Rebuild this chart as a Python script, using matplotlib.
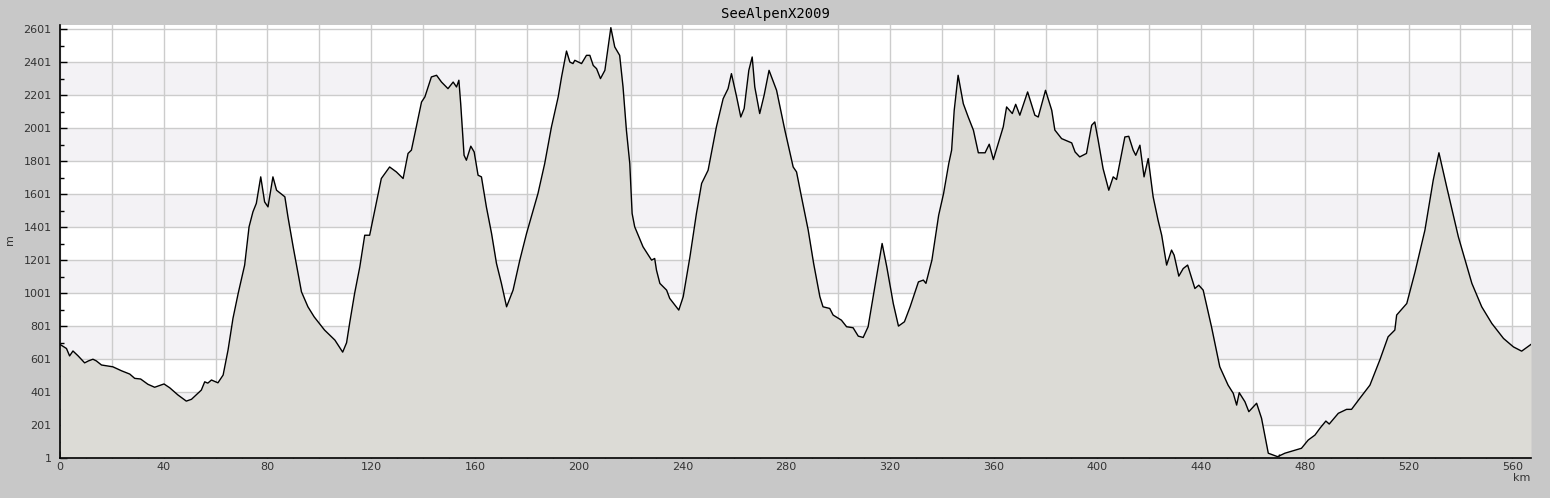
import matplotlib
matplotlib.use("Agg")
import matplotlib.pyplot as plt
from matplotlib.ticker import MultipleLocator, FixedLocator, FuncFormatter

title = "SeeAlpenX2009"
x_label = "km"
y_label = "m"

km = [0, 1, 2.5, 3.7, 5, 7, 9.5, 11, 12.7, 14, 16, 20.4, 23.7, 26.9, 28.8, 31.1, 33.9, 36.5,
      40.1, 42.3, 45.5, 48.7, 50.7, 54.5, 55.8, 57, 58.4, 60.9, 62.9, 64.8, 66.7, 68.7, 71.2,
      72.9, 74.4, 75.7, 77.4, 78.9, 80.2, 82.1, 83.5, 86.7, 87.9, 89.9, 93.1, 95.6, 98, 102,
      106, 109, 110.5, 111.7, 113.6, 115.6, 117.5, 119.4, 121.4, 123.9, 127.1, 129.7, 132.3,
      134.2, 135.5, 139.4, 140.7, 143.2, 145.2, 147.1, 149.6, 151.6, 152.9, 153.8, 154.5,
      155.8, 156.7, 158.4, 159.7, 161.2, 162.5, 164.4, 166.4, 168.3, 170.2, 172.2, 174.7,
      177.3, 179.9, 184.3, 186.9, 189.5, 192.1, 193.4, 195.3, 196.6, 197.8, 198.5, 201.1,
      203, 204.3, 205.6, 206.9, 208.4, 210.1, 212.4, 213.9, 215.8, 217.1, 218.4, 219.7,
      220.6, 221.6, 224.8, 228.1, 229.3, 230, 231.3, 233.9, 235.1, 238.6, 240.3, 242.9,
      245.4, 247.4, 249.9, 253.1, 255.7, 257.6, 258.9, 260.9, 262.5, 263.8, 265.6, 266.9,
      267.9, 269.8, 271.5, 273.4, 276.3, 279.5, 282.7, 284, 285.9, 288.5, 290.6, 293, 294.2,
      296.8, 298.1, 301.3, 303.3, 305.8, 307.8, 309.7, 311.6, 314.2, 317, 318.8, 321.3,
      323.3, 325.6, 327.8, 331, 332.9, 333.9, 336.2, 338.8, 340.7, 342.7, 343.8, 344.8,
      346.3, 348.3, 350.2, 352.2, 354.1, 356.7, 358.3, 359.9, 361.2, 363.7, 365, 367.2,
      368.5, 370.1, 373.1, 375.9, 377.2, 380, 382.4, 383.6, 386.2, 390.1, 391.4, 393.2,
      395.8, 397.8, 399, 400.3, 402.2, 404.4, 406.1, 407.4, 410.6, 412.1, 413.8, 414.8,
      416.4, 418, 419.6, 421.5, 423.4, 424.8, 426.7, 428.6, 429.6, 431.4, 433.1, 434.8,
      437.6, 439.1, 440.8, 444, 447.2, 450.4, 452.4, 453.7, 454.7, 456.9, 458.4, 461.4,
      463.3, 465.9, 469.5, 472.3, 474.2, 478.7, 481.3, 483.9, 485.8, 488.1, 489.4, 492.9,
      496.1, 498, 501.2, 505.1, 508.9, 512.1, 514.7, 515.4, 519.3, 522.5, 526.3, 529.5,
      531.7, 534.7, 539.2, 544.4, 548.2, 552.1, 556.6, 560.4, 563.6, 566.8, 567.2]

elev = [690, 680, 665, 620, 650, 620, 578, 590, 600, 590, 565, 554, 530, 510, 484, 480, 448, 430,
        450, 427, 383, 346, 357, 413, 463, 455, 474, 457, 504, 656, 848, 999, 1171,
        1403, 1494, 1545, 1706, 1554, 1524, 1706, 1625, 1585, 1463, 1282, 1009, 918, 857, 777,
        716, 643, 700, 820, 999, 1160, 1352, 1352, 1504, 1696, 1766, 1736, 1696,
        1848, 1868, 2160, 2191, 2312, 2322, 2281, 2241, 2281, 2251, 2292, 2150,
        1837, 1807, 1892, 1857, 1716, 1706, 1524, 1363, 1181, 1060, 918, 1019,
        1201, 1363, 1605, 1787, 2009, 2191, 2312, 2469, 2402, 2393, 2413, 2393,
        2443, 2443, 2382, 2362, 2302, 2352, 2611, 2494, 2443, 2251, 1989, 1787,
        1484, 1403, 1282, 1201, 1211, 1140, 1060, 1019, 969, 898, 979, 1221,
        1484, 1666, 1746, 2009, 2180, 2241, 2332, 2191, 2069, 2120, 2352, 2433,
        2251, 2090, 2201, 2352, 2231, 1989, 1766, 1736, 1585, 1383, 1180, 979, 918,
        908, 868, 837, 797, 791, 740, 732, 797, 1039, 1302, 1160, 938,
        801, 827, 918, 1069, 1080, 1060, 1201, 1473, 1605, 1787, 1868, 2110,
        2322, 2150, 2069, 1989, 1852, 1852, 1904, 1811, 1878, 2009, 2130, 2090,
        2146, 2080, 2221, 2080, 2069, 2231, 2110, 1990, 1938, 1912, 1857, 1827,
        1848, 2019, 2039, 1928, 1756, 1625, 1706, 1690, 1948, 1952, 1868, 1837,
        1898, 1706, 1817, 1585, 1443, 1352, 1171, 1262, 1231, 1104, 1150, 1171,
        1029, 1049, 1019, 797, 554, 443, 393, 322, 397, 342, 282, 333,
        242, 30, 9, 30, 39, 60, 110, 140, 181, 225, 207, 272,
        296, 296, 363, 443, 595, 736, 777, 868, 938, 1130, 1383, 1686,
        1852, 1645, 1342, 1060, 918, 817, 726, 675, 649, 686, 690]

y_ticks = [1, 201, 401, 601, 801, 1001, 1201, 1401, 1601, 1801, 2001, 2201, 2401, 2601]
band_ranges = [(201, 401), (601, 801), (1001, 1201), (1401, 1601), (1801, 2001), (2201, 2401)]

W, H = 1550, 498
fig = plt.figure(figsize=(W / 100, H / 100), dpi=100)
fig.patch.set_facecolor("#c8c8c8")
ax = fig.add_axes([60 / W, (H - 458) / H, (1531 - 60) / W, (458 - 25) / H])
ax.set_facecolor("white")

for lo, hi in band_ranges:
    ax.axhspan(lo, hi, color="#f3f2f5", zorder=0.5, lw=0)

ax.set_xlim(0, 567.2)
ax.set_ylim(1, 2627)

ax.xaxis.set_major_locator(MultipleLocator(20))
ax.xaxis.set_minor_locator(MultipleLocator(10))
ax.xaxis.set_major_formatter(FuncFormatter(lambda v, p: f"{int(round(v))}" if int(round(v)) % 40 == 0 else ""))
ax.yaxis.set_major_locator(FixedLocator(y_ticks))
ax.yaxis.set_minor_locator(FixedLocator([t + 100 for t in y_ticks]))

ax.grid(True, which="major", color="#cccccc", lw=1, zorder=0.8)
ax.set_axisbelow(True)

ax.fill_between(km, elev, 1, color="#dcdbd6", lw=0, zorder=2)
ax.plot(km, elev, color="black", lw=1, zorder=3)

for s in ["top", "right"]:
    ax.spines[s].set_visible(False)
for s in ["left", "bottom"]:
    ax.spines[s].set_color("black")
    ax.spines[s].set_linewidth(1.2)
    ax.spines[s].set_zorder(4)

ax.tick_params(which="major", direction="in", length=5, width=1, labelsize=8,
               labelcolor="#333333", colors="black", zorder=5)
ax.tick_params(which="minor", direction="in", length=3, width=1, colors="black")
ax.tick_params(axis="y", pad=6)
ax.tick_params(axis="x", pad=3)
for lab in ax.get_xticklabels() + ax.get_yticklabels():
    lab.set_color("#333333")

fig.text(775 / W, 1 - 14 / H, title, ha="center", va="center",
         family="DejaVu Sans Mono", fontsize=10, color="black")
fig.text(10 / W, 1 - 240 / H, y_label, ha="center", va="center", rotation=90,
         fontsize=8, color="#333333")
fig.text(1530 / W, 1 - 478 / H, x_label, ha="right", va="center",
         fontsize=8, color="#333333")

fig.savefig("out.png", dpi=100, facecolor=fig.get_facecolor())
